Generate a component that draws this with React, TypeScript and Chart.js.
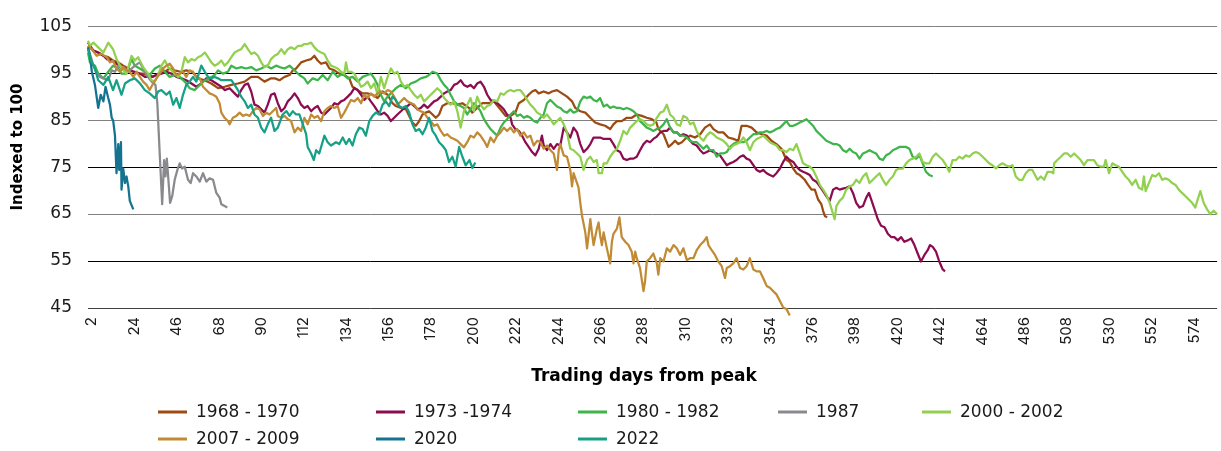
import React, { useEffect, useRef } from "react";
import { Chart, registerables } from "chart.js";

Chart.register(...registerables);

// ---- Data: [trading day from peak, index value] ----
const s1968: [number, number][] = [[0,100.8],[2.8,99.8],[5.3,99.4],[8,98.7],[10.5,98.4],[13,97.7],[15.7,97.3],[18.3,96.6],[20.9,96],[23.5,95.3],[26,94.9],[28.6,94.9],[31.2,94.6],[33.8,94.2],[36.4,94.9],[39.9,95.3],[42.4,96],[45,95.6],[48,95.3],[51,95.6],[54,95.3],[57,93.9],[60.6,93.5],[64,92.8],[67.5,91.8],[70.9,92.1],[74.4,92.5],[77.8,92.8],[81.3,93.2],[84.7,94.2],[88.2,94.2],[91.6,93.2],[95,93.9],[97,93.9],[99.4,93.5],[102,94.2],[104.6,94.6],[106.3,95.6],[108,96],[110.6,97.3],[113.2,97.7],[115.8,98],[117.5,98.7],[119.2,97.7],[121,97],[123.5,97.3],[125.3,96],[127.9,95.6],[130.4,94.9],[133,94.6],[135.6,93.9],[137.3,92.1],[140,91.4],[142.5,90.7],[145,90.7],[147.7,90.4],[150.3,89.7],[152.9,91.1],[155.5,90.4],[158,88.6],[159.8,88],[162.4,87.6],[165,87.3],[166.7,85.9],[168.4,84.5],[170.1,83.8],[171.9,84.8],[173.6,86.2],[175.3,86.6],[177,86.9],[178.8,86.2],[180.5,85.5],[182.2,86.2],[183.9,88],[186.5,88.6],[189.1,88.6],[191.7,88.3],[194.3,88.6],[197.7,87.6],[199.4,86.6],[202,87.6],[204.6,88.6],[208,88.6],[210.6,89],[214,87.3],[216.7,85.9],[219.3,85.9],[221.8,86.6],[223.6,88.6],[226.2,89.3],[228.7,90.4],[230.5,91.1],[232.2,91.4],[233.9,90.7],[236.5,91.1],[239.1,90.7],[240.8,91.1],[243.4,91.4],[246,90.7],[248.6,90],[251.2,89],[252.9,87.6],[255.5,86.9],[258.1,86.6],[260.7,85.5],[263.2,84.5],[265.8,84.1],[268.4,83.8],[271,83.1],[272.7,84.1],[274.5,84.8],[277,84.8],[279.6,85.5],[282.2,85.5],[284.8,86.2],[287.4,85.9],[290,85.5],[292.6,85.2],[295,84.5],[296,83.1],[298.7,82],[301.3,79.3],[303,79.9],[304.7,80.6],[306.4,79.9],[308.2,80.3],[309.9,81],[312.5,81.7],[315,81.3],[317.7,82],[320.2,83.4],[322.8,84.1],[324.6,83.1],[327.1,82.4],[329.7,82.4],[332.3,81.3],[334.9,81],[337.5,80.6],[339.2,83.8],[341.8,83.8],[344.4,83.4],[347,82.4],[349.6,82],[352.2,81.7],[354.7,80.6],[357.3,79.9],[359.9,78.9],[362.5,76.5],[364.2,76.1],[366,74.7],[367.7,73.7],[369.4,73.3],[372,72.3],[373.7,71.2],[375.5,70.2],[377.2,70.2],[378.9,68.1],[380.6,67.1],[381.5,65.7],[382.4,64.6],[383.6,64.3]];

const s1973: [number, number][] = [[0,101.5],[2.8,99.8],[5.3,99.4],[8,98.7],[9.7,98],[12.3,97.7],[14.8,97],[17.4,96],[20.9,95.6],[24.3,95.3],[26.9,94.9],[29.5,94.2],[33,94.2],[35.5,94.6],[38.1,94.9],[40.7,95.3],[43.3,94.9],[45.9,94.2],[48.5,93.9],[51,93.5],[53.7,92.8],[56.2,92.1],[58.8,92.8],[61.4,93.9],[64,93.5],[66.6,92.8],[69.2,92.1],[70.9,91.4],[73.5,91.8],[76.1,90.7],[77.8,90],[79.5,91.4],[81.3,92.5],[83,92.8],[84.7,91.1],[86.4,88.3],[88.2,88],[89.9,87.3],[91.6,86.6],[93.3,88.3],[95,90.4],[96.8,90.7],[98.5,88.6],[100.3,86.9],[102,87.6],[103.7,89],[105.4,89.7],[107.2,90.7],[108.9,89.7],[110.6,88.3],[112.3,87.6],[114,88],[115.8,86.9],[117.5,87.6],[119.2,88],[121,86.6],[122.7,86.2],[124.4,86.9],[126.1,87.6],[127.9,88.6],[129.6,88.3],[131.3,89],[133,89.3],[134.8,90],[136.5,90.7],[138.2,91.8],[139.9,91.4],[141.7,90.4],[143.4,89.3],[145.1,90],[146.8,89],[148.6,88],[150.3,86.9],[152,86.2],[153.7,86.6],[155.5,85.9],[157.2,84.8],[158.9,85.5],[160.6,86.2],[162.4,86.9],[164.1,87.6],[165.8,88],[167.5,88.6],[169.3,88],[171,87.3],[172.7,87.6],[174.4,88.3],[176.2,87.6],[177.9,88.3],[179.6,89],[181.3,89.3],[183.1,90],[184.8,90.7],[186.5,91.1],[188.2,91.4],[190,92.5],[191.7,92.8],[193.4,93.5],[195.1,92.5],[196.9,92.1],[198.5,92.5],[200.3,91.8],[202,92.8],[203.7,93.2],[205.5,92.1],[207.2,90.4],[208.9,89.3],[210.6,89],[212.4,88.6],[214.1,88],[215.8,87.3],[217.5,86.2],[219.3,85.5],[220.1,84.1],[221.8,83.1],[223.6,82.7],[225.3,81.7],[227,80.3],[228.7,79.3],[230.5,78.2],[232.2,77.5],[233.9,78.9],[235.6,81.7],[236.5,79.6],[238.2,78.6],[240,79.9],[241.7,78.9],[243.4,79.9],[245.1,79.6],[246.9,83.4],[248.6,82.4],[250.3,81.3],[252,83.4],[253.8,82.4],[255.5,79.9],[257.2,78.2],[259,78.9],[260.7,79.9],[262.4,81.3],[264.1,81.3],[265.8,81.3],[267.6,81],[269.3,81],[271,81],[272.7,79.9],[274.5,78.6],[276.2,78.2],[277.9,76.8],[279.6,76.5],[281.4,76.8],[283.1,76.8],[284.8,77.2],[286.5,78.6],[288.3,79.9],[290,80.6],[291.7,80.3],[293.4,81],[295.2,81.5],[297,82.4],[298.7,82.7],[300.4,82.7],[302.1,83.4],[303.9,82.4],[305.6,82.4],[307.3,81.7],[309,82],[310.8,81.7],[312.5,80.6],[314.2,79.9],[315.9,79.6],[317.7,78.6],[319.4,77.9],[321.1,78.2],[322.8,78.6],[324.6,78.2],[326.3,77.9],[328,77.5],[329.7,76.5],[331.5,75.4],[333.2,75.8],[334.9,76.1],[336.6,76.5],[338.4,77.2],[340.1,77.5],[341.8,76.8],[343.5,76.5],[345.3,75.4],[347,74.4],[348.7,74],[350.4,74.4],[352.2,73.7],[353.9,73.3],[355.6,73],[357.3,73.7],[359.1,74.7],[360.8,76.1],[362.5,77.2],[364.2,76.5],[366,76.1],[367.7,75.1],[369.4,74.4],[371.1,74],[372.9,73.7],[374.6,73.3],[376.3,72.3],[378,71.9],[379.8,70.9],[381.5,69.9],[383.2,68.8],[384.9,67.8],[386.7,70.2],[388.4,70.6],[390.1,70.2],[391.8,70.4],[393.5,70.6],[395.3,70.9],[397,69.5],[398.7,67.4],[400.4,66.4],[402.2,66.7],[403.9,68.5],[405.3,69.5],[406.5,68.1],[408.2,66],[409.9,63.9],[411.6,62.5],[413.4,62.2],[415.1,60.8],[416.8,60.1],[418.5,60.1],[420.3,59.4],[422,60.1],[423.7,59.1],[425.4,59.4],[427.2,59.8],[428.9,58.4],[430.6,56.6],[432.3,54.9],[434.1,56.3],[435.8,57.3],[437,58.4],[438.4,58],[440.1,57],[441.8,54.9],[443.6,53.2],[444.8,52.8]];

const s1980: [number, number][] = [[0,99.4],[1,97.3],[3.6,96.6],[5.3,94.9],[8,93.9],[10.5,95.3],[13,96.6],[15.7,96],[17.4,94.9],[20,94.9],[22.6,98],[24.3,96.6],[26.9,96],[29.5,95.3],[32,94.6],[34.7,96],[37.3,96.6],[39.9,95.3],[42.4,94.2],[45,94.6],[47.6,94.2],[50.2,93.2],[52.8,91.8],[55.4,91.4],[58,92.5],[60.6,93.5],[63.1,93.9],[65.7,94.6],[67.5,95.6],[70,94.9],[72.6,95.3],[74.4,96.6],[77,96],[79.5,96.3],[82.1,96],[84.7,96.3],[87.3,95.6],[89.9,96],[92.5,96.6],[95,96],[97.6,96.6],[99.4,96.3],[102,96],[104.6,96.6],[107.2,95.6],[109.7,94.6],[112.3,93.9],[114,92.8],[116.6,93.9],[119.2,93.5],[121.8,94.6],[124.4,93.5],[127,95.3],[129.6,94.2],[132.2,94.9],[134.8,93.9],[137.3,94.2],[140,93.2],[142.5,94.2],[145.1,94.6],[146.8,94.9],[148.6,93.9],[150.3,92.5],[152,90.4],[153.7,89],[155.5,90],[157.2,90.7],[159.8,91.8],[162.4,92.5],[165,91.8],[167.5,92.8],[170.1,93.2],[172.7,93.9],[175.3,94.2],[177,94.6],[178.8,95.3],[181.3,94.9],[183.1,93.5],[184.8,92.5],[186.5,91.8],[188.2,90.4],[190,89],[191.7,88.3],[193.4,88],[195.1,87.6],[196.8,86.2],[198.5,87.3],[200.3,88.6],[202,87.9],[203.7,86.9],[205.5,85.2],[207.2,84.1],[208.9,83.1],[210.6,82.4],[212.4,81.7],[214.1,83.4],[215.8,84.5],[217.5,85.2],[219.3,86.2],[221,86.9],[222.7,85.9],[224.4,86.2],[226.2,85.5],[227.9,85.9],[229.6,85.5],[231.3,84.8],[233.1,84.5],[234.8,85.5],[236.5,86.2],[238.2,88.6],[240,89.3],[241.7,88.6],[243.4,87.9],[245.1,87.6],[246.9,86.9],[248.6,86.6],[250.3,87.3],[252,86.6],[253.8,86.9],[255.5,89],[257.2,90],[259,89.7],[260.7,90],[262.4,89.3],[264.1,89],[265.8,89.7],[267.6,87.9],[269.3,88.3],[271,87.6],[272.7,87.9],[274.5,87.6],[276.2,87.6],[277.9,87.3],[279.6,87.6],[281.4,87.3],[283.1,86.9],[284.8,86.2],[286.5,84.8],[288.3,84.1],[290,83.4],[291.7,83.1],[293.4,82.7],[295.2,83.1],[297,83.4],[298.7,84.1],[300.4,85.2],[302.1,83.4],[303.9,82.4],[305.6,82.4],[307.3,81.7],[309,81.7],[310.8,81.3],[312.5,80.6],[314.2,80.3],[315.9,80.3],[317.7,79.6],[319.4,78.9],[321.1,79.6],[322.8,78.6],[324.6,78.6],[326.3,77.2],[328,77.9],[329.7,77.9],[331.5,78.2],[333.2,79.3],[334.9,79.9],[336.6,80.3],[338.4,80.3],[340.1,80.3],[341.8,80.6],[343.5,81.3],[345.3,82],[347,82],[348.7,82.4],[350.4,82.4],[352.2,82.7],[353.9,82.4],[355.6,82.7],[357.3,83.1],[359.1,83.4],[360.8,84.1],[362.5,84.8],[364.2,83.8],[366,83.8],[367.7,84.1],[369.4,84.5],[371.1,84.8],[372.9,85.2],[374.6,84.5],[376.3,83.8],[378,82.7],[379.8,82],[381.5,81.3],[383.2,80.6],[384.9,80.3],[386.7,79.9],[388.4,79.9],[390.1,79.6],[391.8,78.6],[393.6,78.2],[395.3,78.9],[397,78.2],[398.7,77.9],[400.4,76.8],[402.2,77.9],[403.9,78.2],[405.6,78.6],[407.3,78.2],[409,77.9],[410.8,76.8],[412.5,76.5],[414.2,77.5],[416,77.9],[417.7,78.6],[419.4,78.9],[421.1,79.3],[422.9,79.3],[424.6,79.3],[426.3,78.9],[428,77.2],[429.8,76.8],[431.5,77.5],[433.2,75.8],[434.9,74],[436.7,73.3],[438.4,73]];

const s1987: [number, number][] = [[0,100.5],[2.8,96.6],[4.5,94.9],[6.2,94.2],[8,93.9],[10.5,93.5],[12.3,95.6],[14,95.3],[15.7,96.6],[18.3,96],[20.9,95.3],[24.3,96.6],[26.9,97.3],[28.6,96],[30.4,94.6],[33,93.2],[35,92.5],[36,88.5],[37.3,77.2],[38.5,67.1],[39.5,76.5],[40.2,73],[40.9,76.8],[41.6,73],[42.6,67.4],[43.7,68.8],[45,72.3],[46.4,74.4],[47.6,75.8],[48.8,74.7],[50.2,75.1],[51.9,72.3],[53.3,71.6],[54.5,73.7],[56.2,73],[58,71.9],[59.7,73.7],[61.4,71.9],[63.1,72.6],[64.9,72.3],[66.6,69.5],[68.3,68.5],[69.2,67.1],[70.9,66.7],[72.3,66.4]];

const s2000: [number, number][] = [[0,101.9],[1,100.8],[2.8,101.5],[5.3,100.5],[8,99.4],[10.5,101.5],[13,100.1],[14.8,98],[17.4,96],[20,94.9],[22.6,98.7],[24.3,97.7],[26,98.4],[28.6,96.3],[31.2,94.9],[33,93.5],[34.7,93.2],[36.4,94.6],[38.1,96.6],[39.9,97.7],[41.6,96.3],[43.3,95.6],[45,94.9],[46.8,94.2],[48.5,95.3],[50.2,98.4],[51.9,97.3],[53.7,98],[55.4,97.7],[57.1,98.4],[58.8,98.7],[60.6,99.4],[62.3,98.4],[64,97.3],[65.7,96.6],[67.5,97],[69.2,97.7],[70.9,96.6],[72.6,97.3],[74.4,98.4],[76.1,99.4],[77.8,99.8],[79.5,100.1],[81.3,101.2],[83,100.1],[84.7,99.1],[86.4,99.4],[88.2,98.7],[89.9,97.3],[91.6,96.3],[93.3,96.6],[95,98],[96.8,98.7],[98.5,99.1],[100.3,100.1],[102,99.1],[103.7,100.1],[105.4,100.5],[107.2,100.1],[108.9,100.8],[110.6,100.8],[112.3,101.2],[114,101.2],[115.8,101.5],[117.5,100.5],[119.2,99.8],[121,99.4],[122.7,99.1],[124.4,97.7],[126.1,96.6],[127.9,96.3],[129.6,96],[131.3,95.3],[133,94.9],[133.9,97.3],[134.8,95.3],[136.5,95.3],[138.2,94.9],[140,93.5],[141.7,92.1],[143.4,92.5],[145.1,93.2],[146.8,91.8],[148.6,92.8],[150.3,90.4],[152,94.2],[153.7,91.8],[155.5,94.2],[157.2,96],[158.9,94.9],[160.6,95.3],[162.4,93.2],[164.1,92.1],[165.8,92.5],[167.5,91.4],[169.3,90.4],[171,89.7],[172.7,90.4],[174.4,89],[176.2,89.7],[177.9,90.4],[179.6,91.1],[181.3,91.8],[183.1,91.1],[184.8,89.7],[186.5,89],[188.2,88.3],[190,89],[191.7,86.9],[193.4,83.4],[195.1,86.9],[196.9,88.3],[198.5,89.7],[200.3,86.9],[202,90],[203.7,88.3],[205.5,87.3],[207.2,88],[208.9,88.3],[210.6,89.3],[212.4,89],[214.1,90.7],[215.8,90.4],[217.5,91.1],[219.3,91.4],[221,91.1],[222.7,91.4],[224.4,91.4],[226.2,90.4],[227.9,89.3],[229.6,88.3],[231.3,87.6],[233.1,86.6],[234.8,86.2],[236.5,85.5],[238.2,86.2],[240,85.2],[241.7,84.1],[243.4,84.8],[245.1,85.5],[246.9,84.1],[248.6,82.4],[250.3,78.9],[252,78.6],[253.8,77.9],[255.5,77.2],[257.2,74.4],[259,76.5],[260.7,77.2],[262.4,76.1],[264.1,76.5],[265,73.7],[266.7,73.7],[267.6,75.8],[269.3,75.8],[271,77.2],[272.7,78.2],[274.5,78.9],[276.2,80.6],[277.9,82.7],[279.6,82],[281.4,83.4],[283.1,84.1],[284.8,84.8],[286.5,85.2],[288.3,84.8],[290,84.1],[291.7,83.8],[293.4,84.1],[295.2,85.5],[297,86.6],[298.7,86.9],[300.4,88.3],[302.1,86.2],[303.9,85.5],[305.6,84.1],[307.3,83.8],[309,85.9],[310.8,85.5],[312.5,84.1],[314.2,84.5],[315.9,82.7],[317.7,81.3],[319.4,80.6],[321.1,81.7],[322.8,82.4],[324.6,82],[326.3,81.3],[328,81],[329.7,80.6],[331.5,79.9],[333.2,78.9],[334.9,79.6],[336.6,79.9],[338.4,80.3],[340.1,81.3],[341.8,80.3],[343.5,78.6],[345.3,80.3],[347,81],[348.7,81.3],[350.4,81.7],[352.2,81],[353.9,80.3],[355.6,79.9],[357.3,79.6],[359.1,78.6],[360.8,78.6],[362.5,78.2],[364.2,78.9],[366,78.6],[367.7,79.9],[369.4,77.9],[371.1,75.8],[372.9,75.4],[374.6,75.1],[376.3,74.4],[378,73],[379.8,71.2],[381.5,70.2],[383.2,69.1],[384.9,67.4],[386.7,65],[387.5,63.9],[388.4,66.7],[390.1,67.8],[391.8,68.5],[393.5,70.2],[395.3,70.9],[397,71.2],[398.7,72.3],[400.4,71.6],[402.2,73],[403.9,73.7],[405.6,71.6],[407.3,72.3],[409,73],[410.8,73.7],[412.5,72.3],[414.2,71.2],[416,72.3],[417.7,73],[419.4,74.4],[421.1,74.7],[422.9,74.7],[424.6,75.8],[426.3,76.5],[428,76.8],[429.8,77.2],[431.5,77.9],[433.2,76.1],[434.9,75.8],[436.7,75.8],[438.4,77.2],[440.1,77.9],[441.8,77.2],[443.6,76.5],[445.3,75.4],[447,74],[448.7,76.5],[450.5,76.5],[452.2,77.2],[453.9,76.8],[455.6,77.5],[457.4,77.2],[459.1,77.9],[460.8,78.2],[462.5,77.9],[464.3,77.2],[466,76.5],[467.7,75.8],[469.4,75.4],[471.2,74.7],[472.9,75.4],[474.6,75.8],[476.3,75.4],[478.1,75.1],[479.8,75.4],[481.5,73],[483.2,72.3],[485,72.3],[486.7,73.7],[488.4,74.4],[490.1,74.4],[492.8,72.3],[494.5,73],[496.2,72.3],[498,74],[499.7,74],[501,73.7],[501.4,75.8],[503.1,76.5],[504.9,77.2],[506.6,77.9],[508.3,77.9],[510,77.2],[511.8,77.9],[513.5,77.2],[515.2,76.5],[516.9,75.4],[518.7,76.5],[520.4,76.5],[522.1,76.5],[523.8,75.4],[525.6,75.1],[527.3,75.1],[528.1,76.5],[529.9,73.7],[531.6,75.8],[533.3,75.4],[535,75.1],[536.8,74],[538.5,73],[540.2,72.3],[541.9,71.2],[543.7,72.3],[545.4,70.6],[547.1,70.2],[548,73],[548.9,69.9],[550.6,71.6],[552.3,73.3],[554,73],[555.8,73.7],[557.5,72.3],[559.2,72.6],[560.9,72.3],[562.7,71.6],[564.4,71.2],[566.1,70.2],[567.8,69.5],[569.6,68.8],[571.3,68.1],[573,67.4],[574.7,66.4],[575.9,68.1],[577.3,69.9],[579,67.4],[580.8,66],[582.5,65],[584.2,65.7],[586,65]];

const s2007: [number, number][] = [[0,100.8],[2,100.1],[4.5,98.7],[7,99.1],[9.7,98.4],[11.4,97.3],[13,97.7],[14.8,96],[16.6,95.3],[18.3,96.3],[20,95.6],[21.7,95.3],[23.5,94.2],[25.2,95.3],[26.9,94.2],[28.6,93.2],[30.4,92.5],[32,91.4],[33.8,92.8],[35.5,93.9],[37.3,94.9],[39,96],[40.7,96.6],[42.4,97],[44.2,96],[45.9,94.6],[47.6,94.9],[49.3,95.3],[51,94.2],[52.8,95.6],[54.5,95.3],[56.2,94.2],[58,93.9],[59.7,92.1],[61.4,91.4],[63.1,90.7],[64.9,90.4],[66.6,90],[68.3,88.6],[69.2,86.6],[70.9,85.5],[72.6,84.8],[73.5,84.1],[75.2,85.5],[77,85.9],[78.7,86.6],[80.4,85.9],[82.1,86.2],[83.9,85.9],[85.6,86.9],[87.3,87.6],[89,87.3],[90.8,85.9],[92.5,86.6],[94.2,86.2],[95.9,86.9],[97.7,87.6],[98.5,85.9],[100.3,85.5],[102,85.9],[103.7,85.2],[105.4,84.8],[107.2,82.4],[108.9,83.4],[110.6,82.7],[112.3,85.5],[114,84.1],[115.8,86.2],[117.5,85.5],[119.2,85.9],[121,84.8],[122.7,86.9],[124.4,87.6],[126.1,88],[127.9,87.6],[129.6,88],[131.3,85.5],[133,86.6],[134.8,88],[136.5,89.3],[138.2,89],[140,89.7],[141.7,88.6],[143.4,90.4],[145.1,89.7],[146.8,90.7],[148.6,90],[150.3,90.7],[152,91.1],[153.7,90.7],[155.5,91.4],[157.2,91.1],[158.9,90],[160.6,88.3],[162.4,89],[164.1,89.7],[165.8,89],[167.5,88.6],[169.3,88.3],[171,87.3],[172.7,86.9],[174.4,86.6],[176.2,85.5],[177.9,84.8],[179.6,83.8],[181.3,84.1],[183.1,82.7],[184.8,81.7],[186.5,82],[188.2,81.3],[190,81],[191.7,80.6],[193.4,79.9],[195.1,79.2],[196.8,80.3],[198.5,81.7],[200.3,81.3],[202,82.4],[203.7,81.7],[205.5,80.6],[207.2,79.3],[208.9,81.3],[210.6,80.3],[212.4,81.7],[214.1,82.4],[215.8,83.4],[217.5,82.7],[219.3,83.4],[221,82.4],[222.7,83.1],[224.4,81.7],[226.2,82.4],[227.9,81.3],[229.6,81.7],[231.3,79.6],[233.1,80.6],[234.8,80.3],[236.5,78.9],[238.2,79.6],[240,78.6],[241.7,77.9],[243.4,74.4],[244.3,78.6],[245.1,79.9],[246.9,77.5],[248.6,77.2],[250.3,74.4],[251.2,70.9],[252,73.7],[253.8,71.6],[254.6,70.6],[255.5,67.4],[256.4,64.6],[258.1,61.1],[259,57.7],[259.8,60.5],[260.7,63.9],[261.5,61.1],[262.4,58.4],[264.1,61.9],[265,63.2],[265.8,60.5],[266.7,58.4],[267.6,61.1],[269.3,57.7],[271,54.5],[271.9,59.1],[272.7,60.8],[274.5,61.9],[275.8,64.3],[277,60.1],[278.8,59.1],[280.5,58.4],[282.2,57],[283.1,54.5],[284,57],[284.8,55.6],[286.5,53.5],[288.3,48.6],[289.1,50.7],[290,54.9],[291.7,55.6],[293.4,56.6],[295.2,54.5],[296,52.1],[297,55.6],[298.7,54.9],[300.4,57.7],[302.1,57],[303.9,58.4],[305.6,57.7],[307.3,56.3],[309,57.7],[310.8,55.2],[312.5,55.6],[314.2,55.6],[315.9,57.3],[317.7,58.4],[319.4,59.1],[321.1,60.1],[322,58.4],[323.7,57.3],[325.4,56.3],[327.1,54.9],[328.9,53.9],[330.6,51.4],[331.5,53.5],[333.2,53.9],[334.9,54.5],[336.6,55.6],[338.4,53.5],[340.1,53.2],[341.8,53.9],[343.5,55.6],[345.3,53.2],[347,52.8],[348.7,52.8],[350.4,51.4],[352.2,49.7],[353.9,49.3],[355.6,48.6],[357.3,47.9],[359.1,46.5],[360.8,45.1],[362.5,44.8],[364.2,43.4]];

const s2020: [number, number][] = [[0,100.5],[1,98.7],[2,95.3],[3.6,92.5],[5.3,87.6],[6.6,90.4],[8,89],[9.1,92.1],[10.5,89.7],[11.4,88.3],[12.3,85.5],[13.1,84.8],[14,81.7],[14.8,73.7],[15.7,79.9],[16.2,74.4],[17.1,80.3],[17.4,70.2],[18.3,74.7],[19.2,71.6],[20,73],[20.9,70.9],[21.7,67.8],[23.5,66]];

const s2022: [number, number][] = [[0,100.1],[2,97.3],[3.6,96],[5.3,93.5],[8,92.5],[10.5,94.2],[13,91.4],[14.8,93.5],[17.4,90.4],[19.2,92.8],[21.7,93.5],[24.3,93.9],[27,92.8],[29.5,91.4],[32,90.7],[34.7,89.7],[36.4,91.1],[38.1,91.4],[40.7,90.4],[42.4,91.1],[44.2,88.3],[45.9,89.7],[47.6,87.6],[49.3,90.4],[51,92.5],[52.8,93.2],[54.5,94.2],[56.2,93.2],[58.8,96.6],[60.6,95.3],[62.3,94.2],[64,93.9],[65.7,94.2],[67.5,93.9],[69.2,93.5],[70.9,93.5],[72.6,93.5],[74.4,93.5],[76.1,92.5],[77.8,91.4],[79.5,90],[81.3,89],[83,87.6],[84.7,88.3],[86.4,86.2],[88.2,85.5],[89.9,83.4],[91.6,82.4],[93.3,84.1],[95,85.5],[96.8,82.7],[98.5,83.4],[101,86.2],[103,86.9],[104.6,85.9],[106.3,86.9],[108,86.2],[109.7,86.2],[111.5,84.1],[113.2,82],[114,79.3],[115.8,77.9],[117.2,76.5],[118.4,78.6],[120,77.9],[122.7,81.7],[124.4,80.3],[126.1,79.6],[128.7,80.3],[130.4,79.9],[132.2,81.3],[133.9,79.9],[135.6,81],[137.3,79.6],[139,82],[140.8,83.4],[142.5,83.1],[144.2,81.7],[146,84.8],[147.7,85.9],[149.4,86.6],[151.1,86.2],[152.9,88.3],[154.6,89],[156.3,88],[158,90],[159.8,89.3],[161.5,88],[163.2,87.6],[165,88],[166.7,86.6],[168.4,84.1],[170.1,82.7],[171.9,83.1],[173.6,82],[175.3,83.4],[177,85.5],[178.8,82.7],[180.5,81.7],[182.2,80.3],[183.9,79.6],[185.7,78.6],[187.4,76.1],[189.1,77.2],[190.8,75.1],[192.6,79.3],[194.3,77.2],[196,75.4],[198,76.5],[199.5,74.8],[201,76]];

const seriesNames = ["1968 - 1970", "1973 -1974", "1980 - 1982", "1987", "2000 - 2002", "2007 - 2009", "2020", "2022"];
const seriesData = [s1968, s1973, s1980, s1987, s2000, s2007, s2020, s2022];
const seriesColors = ["#9C4B12", "#8C0D4F", "#3DB54A", "#8A8A8E", "#92D050", "#C08B34", "#147391", "#16A085"];

const xTickDays = [2, 24, 46, 68, 90, 112, 134, 156, 178, 200, 222, 244, 266, 288, 310, 332, 354, 376, 398, 420, 442, 464, 486, 508, 530, 552, 574];
const yTickValues = [45, 55, 65, 75, 85, 95, 105];

const xTitle = "Trading days from peak";
const yTitle = "Indexed to 100";

const FONT = "'DejaVu Sans', sans-serif";
const XTICK_FONT = "Inter, 'DejaVu Sans', sans-serif";

// legend layout: [x of line start, row]
const legendSlots: [number, number][] = [[158, 0], [376, 0], [578, 0], [778, 0], [922, 0], [158, 1], [376, 1], [578, 1]];

const overlayPlugin = {
  id: "overlay",
  afterDraw(chart: any) {
    const ctx = chart.ctx as CanvasRenderingContext2D;

    // y axis title
    ctx.save();
    ctx.translate(18, 147);
    ctx.rotate(-Math.PI / 2);
    ctx.font = `bold 15px ${FONT}`;
    ctx.fillStyle = "#000";
    ctx.textAlign = "center";
    ctx.textBaseline = "middle";
    ctx.fillText(yTitle, 0, 0);
    ctx.restore();

    // x axis title
    ctx.save();
    ctx.font = `bold 17px ${FONT}`;
    ctx.fillStyle = "#000";
    ctx.textAlign = "center";
    ctx.textBaseline = "middle";
    ctx.fillText(xTitle, 644, 377);
    ctx.restore();

    // legend
    ctx.save();
    ctx.font = `17px ${FONT}`;
    ctx.textBaseline = "middle";
    ctx.textAlign = "left";
    seriesNames.forEach((name, i) => {
      const [lx, row] = legendSlots[i];
      const ly = row === 0 ? 412 : 439;
      ctx.strokeStyle = seriesColors[i];
      ctx.lineWidth = 3;
      ctx.beginPath();
      ctx.moveTo(lx, ly);
      ctx.lineTo(lx + 29, ly);
      ctx.stroke();
      ctx.fillStyle = "#1a1a1a";
      ctx.fillText(name, lx + 38, ly + 1);
    });
    ctx.restore();
  },
};

export default function App() {
  const canvasRef = useRef<HTMLCanvasElement | null>(null);

  useEffect(() => {
    if (!canvasRef.current) return;
    const chart = new Chart(canvasRef.current, {
      type: "line",
      data: {
        datasets: seriesNames.map((name, i) => ({
          label: name,
          data: seriesData[i].map(([x, y]) => ({ x, y })),
          borderColor: seriesColors[i],
          backgroundColor: seriesColors[i],
          borderWidth: 2.25,
          pointRadius: 0,
          tension: 0,
          fill: false,
          borderJoinStyle: "round" as const,
          order: seriesNames.length - i,
          clip: false as any,
        })),
      },
      options: {
        animation: false,
        responsive: false,
        devicePixelRatio: 1,
        layout: { padding: { top: 21, left: 0, right: 0, bottom: 63 } },
        plugins: {
          legend: { display: false },
          tooltip: { enabled: false },
        },
        scales: {
          x: {
            type: "linear",
            min: 0,
            max: 586,
            grid: { display: false, drawTicks: false },
            border: { display: false },
            afterBuildTicks: (scale: any) => {
              scale.ticks = xTickDays.map((v) => ({ value: v }));
            },
            afterFit: (scale: any) => {
              scale.height = 80;
            },
            ticks: {
              autoSkip: false,
              maxRotation: 90,
              minRotation: 90,
              padding: 9,
              color: "#1a1a1a",
              font: { family: XTICK_FONT, size: 15 },
              callback: (v: any) => String(v),
            },
          },
          y: {
            min: 45,
            max: 105,
            afterBuildTicks: (scale: any) => {
              scale.ticks = yTickValues.map((v) => ({ value: v }));
            },
            afterFit: (scale: any) => {
              scale.width = 88;
            },
            grid: {
              drawTicks: false,
              lineWidth: 1,
              color: (c: any) => {
                const v = c.tick ? c.tick.value : 0;
                if (v === 45) return "#404040";
                return ((v - 45) / 10) % 2 === 1 ? "#000000" : "#808080";
              },
            },
            border: { display: false },
            ticks: {
              padding: 16,
              color: "#1a1a1a",
              font: { family: FONT, size: 17 },
            },
          },
        },
      },
      plugins: [overlayPlugin],
    });
    return () => chart.destroy();
  }, []);

  return (
    <div style={{ position: "absolute", left: 0, top: 0, width: 1221, height: 451, background: "#fff" }}>
      <canvas ref={canvasRef} width={1221} height={451} style={{ display: "block" }} />
    </div>
  );
}
